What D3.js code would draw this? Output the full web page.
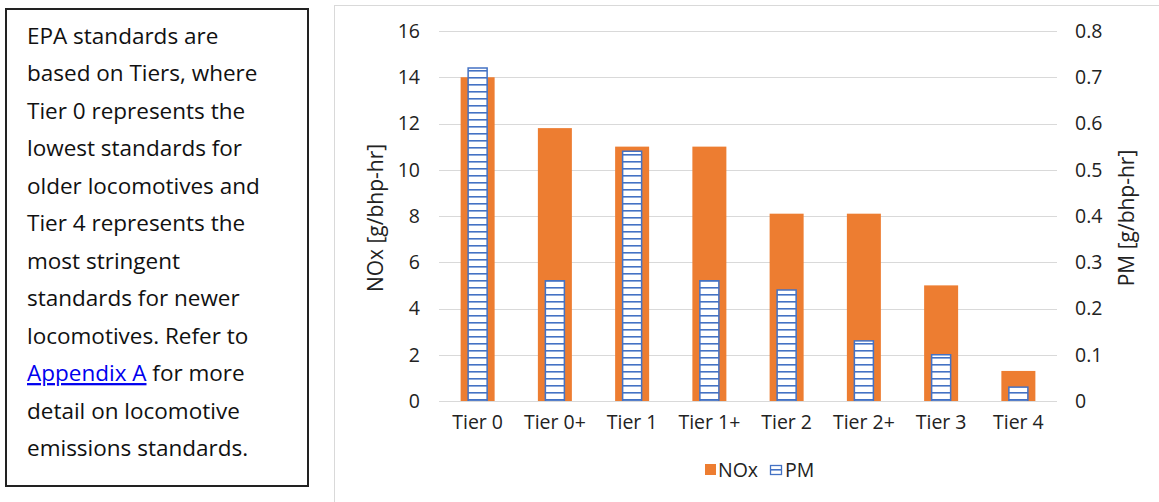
<!DOCTYPE html>
<html><head><meta charset="utf-8">
<script src="https://cdn.jsdelivr.net/npm/d3@7"></script>
<style>body{margin:0;background:#fff}svg{display:block}</style>
</head><body>
<svg id="c" width="1159" height="502"></svg>
<script>
const categories = ["Tier 0","Tier 0+","Tier 1","Tier 1+","Tier 2","Tier 2+","Tier 3","Tier 4"];
const noxValues = [14, 11.8, 11, 11, 8.1, 8.1, 5, 1.3];
const pmValues = [0.72, 0.26, 0.54, 0.26, 0.24, 0.13, 0.10, 0.03];
const leftTicks = [0,2,4,6,8,10,12,14,16];
const rightTicks = [0,0.1,0.2,0.3,0.4,0.5,0.6,0.7,0.8];
const noteLines = ["EPA standards are","based on Tiers, where","Tier 0 represents the","lowest standards for","older locomotives and","Tier 4 represents the","most stringent","standards for newer","locomotives. Refer to","@@","detail on locomotive","emissions standards."];

const svg = d3.select("#c");
const font = "'Open Sans', sans-serif";
const orange = "#ED7D31", blue = "#4472C4";

// text box
svg.append("rect").attr("x",6).attr("y",9).attr("width",302).attr("height",477)
  .attr("fill","#fff").attr("stroke","#222").attr("stroke-width",2);
const tg = svg.append("g").attr("font-family",font).attr("font-size",22.5).attr("fill","#111");
noteLines.forEach((l,i)=>{
  const y = 44 + i*37.45;
  if(l==="@@"){
    const t = tg.append("text").attr("x",27).attr("y",y);
    t.append("tspan").attr("fill","#0000EE").attr("text-decoration","underline").text("Appendix A");
    t.append("tspan").text(" for more");
  } else tg.append("text").attr("x",27).attr("y",y).text(l);
});

// chart frame
svg.append("rect").attr("x",334.5).attr("y",5.5).attr("width",840).attr("height",520)
  .attr("fill","#fff").attr("stroke","#d9d9d9");

const defs = svg.append("defs");
const pat = defs.append("pattern").attr("id","hstripe").attr("patternUnits","userSpaceOnUse")
  .attr("width",8).attr("height",7);
pat.append("rect").attr("width",8).attr("height",7).attr("fill","#fff");
pat.append("rect").attr("y",0).attr("width",8).attr("height",1.6).attr("fill",blue);

const xc = d3.scaleBand().domain(categories).range([439,1057]);
const yL = d3.scaleLinear().domain([0,16]).range([401,31]);
const yR = d3.scaleLinear().domain([0,0.8]).range([401,31]);

// gridlines
svg.append("g").selectAll("line").data(leftTicks).join("line")
  .attr("x1",439).attr("x2",1057).attr("y1",d=>Math.round(yL(d))+0.5).attr("y2",d=>Math.round(yL(d))+0.5)
  .attr("stroke","#d9d9d9").attr("stroke-width",1);

// NOx bars
const nw = 34;
svg.append("g").selectAll("rect").data(categories).join("rect")
  .attr("x",(d)=>xc(d)+xc.bandwidth()/2-nw/2).attr("width",nw)
  .attr("y",(d,i)=>yL(noxValues[i])).attr("height",(d,i)=>yL(0)-yL(noxValues[i]))
  .attr("fill",orange);

// PM bars
const pw = 19;
svg.append("g").selectAll("rect").data(categories).join("rect")
  .attr("x",(d)=>xc(d)+xc.bandwidth()/2-pw/2).attr("width",pw)
  .attr("y",(d,i)=>yR(pmValues[i])).attr("height",(d,i)=>yR(0)-yR(pmValues[i]))
  .attr("fill","url(#hstripe)").attr("stroke",blue).attr("stroke-width",1.5);

// axes
const tickFs = 19.5;
const axL = d3.axisLeft(yL).tickValues(leftTicks).tickSize(0).tickPadding(19);
const gL = svg.append("g").attr("transform","translate(439,0)").call(axL);
gL.select(".domain").remove();
gL.selectAll("text").attr("font-family",font).attr("font-size",tickFs).attr("fill","#222");

const axR = d3.axisRight(yR).tickValues(rightTicks).tickSize(0).tickPadding(18).tickFormat(d=>d===0?"0":d3.format(".1f")(d));
const gR = svg.append("g").attr("transform","translate(1057,0)").call(axR);
gR.select(".domain").remove();
gR.selectAll("text").attr("font-family",font).attr("font-size",tickFs).attr("fill","#222");

const axB = d3.axisBottom(xc).tickSize(0).tickPadding(14);
const gB = svg.append("g").attr("transform","translate(0,401)").call(axB);
gB.select(".domain").attr("stroke","#d9d9d9").attr("d","M439,0.5H1057");
gB.selectAll("text").attr("font-family",font).attr("font-size",tickFs).attr("fill","#222");

// axis titles
svg.append("text").attr("transform","translate(383,218) rotate(-90)").attr("text-anchor","middle")
  .attr("font-family",font).attr("font-size",21).attr("fill","#222").text("NOx [g/bhp-hr]");
svg.append("text").attr("transform","translate(1134,218) rotate(-90)").attr("text-anchor","middle")
  .attr("font-family",font).attr("font-size",21).attr("fill","#222").text("PM [g/bhp-hr]");

// legend
const lg = svg.append("g").attr("font-family",font).attr("font-size",tickFs).attr("fill","#222");
lg.append("rect").attr("x",705).attr("y",464).attr("width",11).attr("height",11).attr("fill",orange);
lg.append("text").attr("x",718).attr("y",477).text("NOx");
lg.append("rect").attr("x",770.5).attr("y",465.5).attr("width",11).attr("height",9)
  .attr("fill","url(#hstripe)").attr("stroke",blue).attr("stroke-width",1.3);
lg.append("text").attr("x",785).attr("y",477).text("PM");
</script>
</body></html>
